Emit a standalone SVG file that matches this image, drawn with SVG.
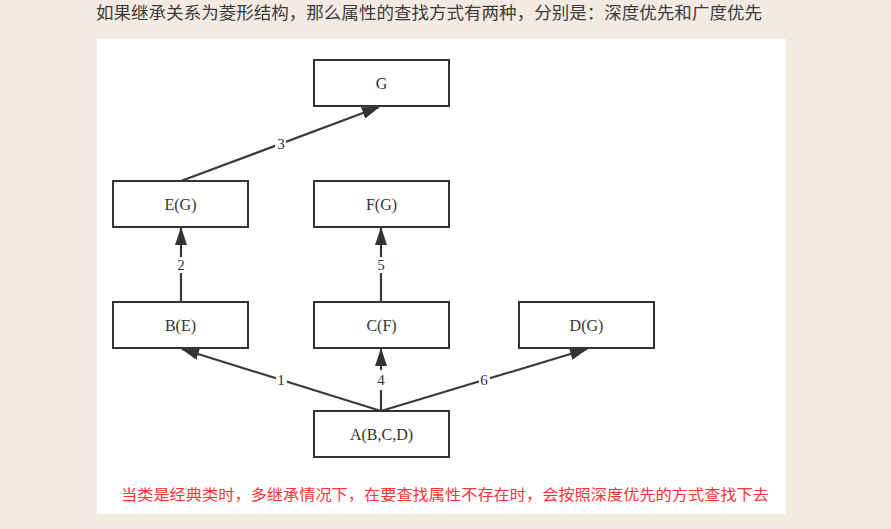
<svg xmlns="http://www.w3.org/2000/svg" width="891" height="529" viewBox="0 0 891 529">
<defs>
<marker id="arr" markerWidth="18" markerHeight="12" refX="17" refY="6" orient="auto" markerUnits="userSpaceOnUse">
<path d="M0,0 L18,6 L0,12 Z" fill="#333"/>
</marker>
<style>
.box{fill:#fff;stroke:#333;stroke-width:2}
.lbl{font-family:"Liberation Serif","Times New Roman",serif;font-size:16px;fill:#333;text-anchor:middle}
.edge{stroke:#3a3a3a;stroke-width:2.2;fill:none;marker-end:url(#arr)}
.elbl{font-family:"Liberation Serif",serif;font-size:15px;fill:#333;text-anchor:middle}
.bg{fill:#fff}
</style>
</defs>
<rect x="0" y="0" width="891" height="529" fill="#f3ebe1"/>
<text x="96" y="19" font-family="'Noto Sans CJK SC','Noto Sans',sans-serif" font-size="17" fill="#3c3c3c" textLength="666" lengthAdjust="spacingAndGlyphs">如果继承关系为菱形结构，那么属性的查找方式有两种，分别是：深度优先和广度优先</text>
<rect x="97" y="39" width="689" height="475" fill="#fff"/>
<g id="connectors">
<line class="edge" x1="181" y1="181" x2="379" y2="107"/>
<line class="edge" x1="181" y1="302" x2="181" y2="228"/>
<line class="edge" x1="381" y1="302" x2="381" y2="228"/>
<line class="edge" x1="381" y1="411" x2="182" y2="349"/>
<line class="edge" x1="381" y1="411" x2="381" y2="349"/>
<line class="edge" x1="381" y1="411" x2="587" y2="349"/>
<rect class="bg" x="275" y="136" width="11" height="15"/>
<text class="elbl" x="281" y="149">3</text>
<rect class="bg" x="175" y="257" width="12" height="16"/>
<text class="elbl" x="181" y="270">2</text>
<rect class="bg" x="375" y="257" width="12" height="16"/>
<text class="elbl" x="381" y="270">5</text>
<rect class="bg" x="276" y="372" width="11" height="15"/>
<text class="elbl" x="281" y="385">1</text>
<rect class="bg" x="375" y="370" width="12" height="20"/>
<text class="elbl" x="381" y="385">4</text>
<rect class="bg" x="479" y="372" width="11" height="15"/>
<text class="elbl" x="484" y="385">6</text>
</g>
<g id="G"><rect class="box" x="314" y="60" width="135" height="46"/><text class="lbl" x="381.5" y="89">G</text></g>
<g id="EG"><rect class="box" x="113" y="181" width="135" height="46"/><text class="lbl" x="180.5" y="210">E(G)</text></g>
<g id="FG"><rect class="box" x="314" y="181" width="135" height="46"/><text class="lbl" x="381.5" y="210">F(G)</text></g>
<g id="BE"><rect class="box" x="113" y="302" width="135" height="46"/><text class="lbl" x="180.5" y="331">B(E)</text></g>
<g id="CF"><rect class="box" x="314" y="302" width="135" height="46"/><text class="lbl" x="381.5" y="331">C(F)</text></g>
<g id="DG"><rect class="box" x="519" y="302" width="135" height="46"/><text class="lbl" x="586.5" y="331">D(G)</text></g>
<g id="A"><rect class="box" x="314" y="411" width="135" height="46"/><text class="lbl" x="381.5" y="440">A(B,C,D)</text></g>
<text x="121" y="500" font-family="'Noto Sans CJK SC',sans-serif" font-size="15" fill="#ff3333" textLength="648" lengthAdjust="spacingAndGlyphs">当类是经典类时，多继承情况下，在要查找属性不存在时，会按照深度优先的方式查找下去</text>
</svg>
